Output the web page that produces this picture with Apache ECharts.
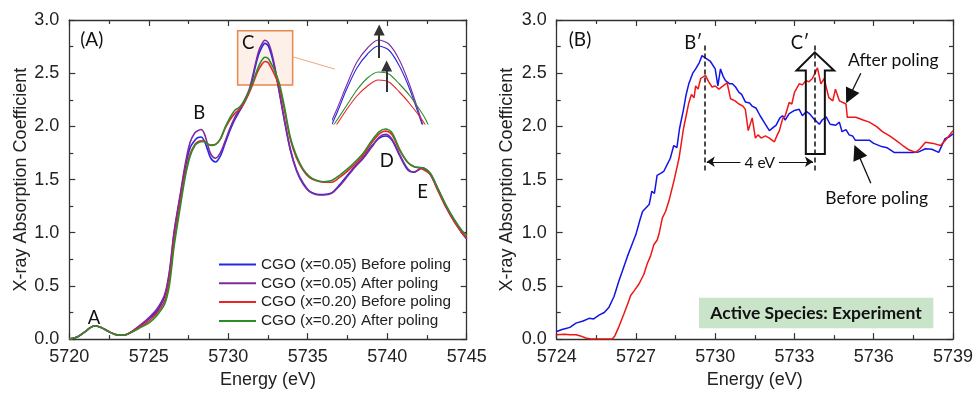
<!DOCTYPE html>
<html>
<head>
<meta charset="utf-8">
<script src="https://cdn.jsdelivr.net/npm/echarts@6/dist/echarts.min.js"></script>
<style>html,body{margin:0;padding:0;background:#fff}#c{width:976px;height:394px}</style>
</head>
<body>
<div id="c"></div>
<script>
// ---------- Panel (A) data ----------
const leftEnergy = [5720,5720.5,5721,5721.3,5721.6,5722,5722.5,5723,5723.5,5724,5724.5,5725,5725.5,5726,5726.3,5726.6,5727,5727.3,5727.6,5727.9,5728.1,5728.3,5728.5,5728.7,5728.9,5729.2,5729.5,5729.8,5730.1,5730.4,5730.7,5731,5731.3,5731.5,5731.7,5731.9,5732.1,5732.3,5732.5,5732.7,5732.9,5733.2,5733.5,5733.9,5734.3,5734.7,5735.1,5735.5,5736,5736.5,5737,5737.5,5738,5738.5,5739,5739.5,5739.9,5740.3,5740.8,5741.3,5741.7,5742.2,5742.7,5743.2,5743.7,5744.2,5744.7,5745];
const cgo05Before = [0.00,0.02,0.07,0.105,0.125,0.11,0.07,0.04,0.04,0.075,0.13,0.19,0.26,0.40,0.62,1.00,1.36,1.62,1.80,1.87,1.895,1.90,1.86,1.78,1.70,1.665,1.72,1.84,1.96,2.06,2.14,2.22,2.32,2.43,2.56,2.67,2.74,2.78,2.76,2.68,2.56,2.33,2.08,1.78,1.58,1.46,1.39,1.365,1.36,1.375,1.45,1.54,1.63,1.71,1.81,1.89,1.91,1.87,1.72,1.59,1.57,1.61,1.55,1.40,1.24,1.11,1.00,0.945];
const cgo05After  = [0.00,0.02,0.07,0.105,0.125,0.11,0.07,0.04,0.04,0.08,0.135,0.20,0.28,0.42,0.64,1.02,1.38,1.65,1.85,1.94,1.96,1.97,1.93,1.83,1.74,1.70,1.75,1.86,1.98,2.08,2.16,2.24,2.34,2.45,2.58,2.70,2.77,2.81,2.79,2.71,2.58,2.34,2.09,1.79,1.59,1.47,1.39,1.36,1.355,1.37,1.44,1.53,1.62,1.70,1.80,1.90,1.925,1.88,1.73,1.60,1.57,1.61,1.56,1.41,1.25,1.12,1.00,0.94];
const cgo20Before = [0.00,0.02,0.07,0.105,0.125,0.11,0.07,0.04,0.04,0.075,0.12,0.17,0.24,0.36,0.56,0.93,1.30,1.56,1.74,1.83,1.855,1.865,1.86,1.835,1.82,1.83,1.88,1.98,2.06,2.12,2.16,2.22,2.31,2.38,2.46,2.53,2.58,2.61,2.60,2.55,2.49,2.38,2.18,1.88,1.70,1.59,1.52,1.49,1.475,1.475,1.52,1.58,1.65,1.73,1.84,1.93,1.955,1.92,1.77,1.66,1.62,1.60,1.55,1.39,1.24,1.11,1.00,0.955];
const cgo20After  = [0.00,0.02,0.07,0.105,0.125,0.11,0.07,0.04,0.04,0.07,0.11,0.15,0.22,0.33,0.51,0.88,1.26,1.53,1.72,1.82,1.845,1.855,1.855,1.835,1.825,1.83,1.88,1.99,2.08,2.15,2.18,2.24,2.33,2.40,2.48,2.56,2.62,2.65,2.64,2.59,2.53,2.41,2.21,1.90,1.72,1.60,1.53,1.495,1.48,1.49,1.54,1.60,1.67,1.75,1.86,1.95,1.975,1.94,1.78,1.66,1.62,1.61,1.56,1.41,1.26,1.13,1.02,0.975];
const legendNames = ['CGO (x=0.05) Before poling','CGO (x=0.05) After poling','CGO (x=0.20) Before poling','CGO (x=0.20) After poling'];

// ---------- Panel (B) data ----------
const rightBeforeEnergy = [5724.0,5724.2,5724.35,5724.5,5724.73,5725.0,5725.23,5725.4,5725.6,5725.8,5725.98,5726.17,5726.36,5726.5,5726.68,5726.85,5727.0,5727.15,5727.25,5727.4,5727.5,5727.6,5727.7,5727.8,5727.95,5728.06,5728.18,5728.3,5728.43,5728.55,5728.65,5728.8,5728.9,5729.0,5729.15,5729.26,5729.4,5729.5,5729.65,5729.82,5730.0,5730.1,5730.2,5730.3,5730.39,5730.55,5730.65,5730.77,5730.9,5731.0,5731.14,5731.3,5731.4,5731.55,5731.7,5731.85,5732.05,5732.2,5732.3,5732.45,5732.55,5732.65,5732.8,5733.0,5733.18,5733.3,5733.45,5733.56,5733.7,5733.94,5734.05,5734.2,5734.35,5734.56,5734.7,5734.8,5734.95,5735.07,5735.2,5735.3,5735.83,5736.0,5736.3,5736.5,5736.77,5737.46,5737.7,5737.96,5738.2,5738.46,5738.7,5738.85,5739.0];
const rightBeforeValue  = [0.072,0.09,0.10,0.11,0.15,0.17,0.195,0.19,0.225,0.25,0.30,0.40,0.55,0.65,0.78,0.89,0.985,1.12,1.20,1.24,1.265,1.39,1.37,1.54,1.56,1.58,1.64,1.70,1.82,1.80,1.98,2.16,2.30,2.40,2.50,2.54,2.60,2.665,2.64,2.61,2.54,2.38,2.54,2.47,2.43,2.40,2.40,2.37,2.32,2.30,2.23,2.22,2.19,2.17,2.10,2.04,1.96,1.99,2.01,2.08,2.10,2.06,2.12,2.15,2.16,2.10,2.14,2.12,2.08,2.02,2.06,2.09,2.02,2.01,2.04,1.95,1.97,1.92,1.91,1.87,1.87,1.84,1.81,1.80,1.755,1.755,1.76,1.79,1.785,1.755,1.885,1.90,1.93];
const rightAfterEnergy  = [5724.0,5724.3,5724.5,5724.73,5724.9,5725.1,5725.3,5725.5,5725.8,5726.1,5726.2,5726.36,5726.55,5726.7,5726.8,5726.95,5727.12,5727.3,5727.43,5727.55,5727.68,5727.8,5727.87,5728.0,5728.12,5728.25,5728.35,5728.44,5728.63,5728.8,5728.9,5729.0,5729.1,5729.2,5729.26,5729.35,5729.45,5729.63,5729.75,5729.88,5730.0,5730.14,5730.3,5730.45,5730.58,5730.75,5730.9,5731.05,5731.14,5731.25,5731.4,5731.52,5731.62,5731.74,5731.9,5732.05,5732.24,5732.35,5732.43,5732.55,5732.65,5732.8,5732.9,5733.0,5733.18,5733.3,5733.43,5733.55,5733.68,5733.87,5734.0,5734.13,5734.2,5734.3,5734.45,5734.55,5734.7,5734.95,5735.0,5735.32,5735.6,5735.83,5736.1,5736.33,5736.6,5736.83,5737.1,5737.33,5737.58,5737.75,5737.96,5738.25,5738.53,5738.75,5739.0];
const rightAfterValue   = [0.04,0.045,0.04,0.04,0.03,0.01,0.0,0.0,0.0,0.0,0.03,0.12,0.24,0.34,0.41,0.46,0.52,0.61,0.71,0.78,0.89,0.93,0.985,1.14,1.20,1.30,1.40,1.49,1.70,1.98,2.10,2.22,2.30,2.27,2.38,2.35,2.45,2.48,2.42,2.37,2.38,2.35,2.38,2.41,2.26,2.24,2.21,2.19,2.16,1.96,2.08,1.89,1.92,1.89,1.91,1.89,1.855,1.92,1.96,2.07,2.10,2.225,2.21,2.32,2.40,2.39,2.43,2.42,2.45,2.55,2.40,2.45,2.37,2.27,2.24,2.35,2.24,2.21,2.085,2.085,2.06,2.04,2.00,1.95,1.91,1.87,1.82,1.78,1.755,1.79,1.85,1.84,1.82,1.88,1.96];

// ---------- annotation geometry (data coordinates) ----------
const blockArrow = [[5733.43,1.74],[5733.43,2.526],[5733.08,2.526],[5733.77,2.696],[5734.5,2.526],[5734.15,2.526],[5734.15,1.74]];

const zip = (xs, ys) => xs.map((x, i) => [x, ys[i]]);
const leftColors = ['#2626e8', '#7e2c9c', '#e8262a', '#2a8c2a'];
const leftValues = [cgo05Before, cgo05After, cgo20Before, cgo20After];

const TICK_FONT = "'Liberation Sans', Arial, sans-serif";
const ANNO_FONT = "Lato, 'Open Sans', sans-serif";

function mainX(grid, min, max, interval, name) {
  return [{
    type: 'value', gridIndex: grid, min, max, interval, position: 'bottom',
    axisLine: { show: true, onZero: false, lineStyle: { color: '#333', width: 1.3 } },
    axisTick: { show: true, inside: true, length: 6, lineStyle: { color: '#333', width: 1.2 } },
    minorTick: { show: true, splitNumber: 2, length: 4, lineStyle: { color: '#333', width: 1.2 } },
    axisLabel: { fontSize: 18, color: '#222', fontFamily: TICK_FONT, margin: 9, formatter: v => String(v) },
    splitLine: { show: false },
    name, nameLocation: 'middle', nameGap: 30,
    nameTextStyle: { fontSize: 18, color: '#222', fontFamily: TICK_FONT }
  }, {
    type: 'value', gridIndex: grid, min, max, interval, position: 'top',
    axisLine: { show: true, onZero: false, lineStyle: { color: '#333', width: 1.3 } },
    axisTick: { show: true, inside: true, length: 6, lineStyle: { color: '#333', width: 1.2 } },
    minorTick: { show: true, splitNumber: 2, length: 4, lineStyle: { color: '#333', width: 1.2 } },
    axisLabel: { show: false }, splitLine: { show: false }
  }];
}
function mainY(grid, nameGap) {
  return [{
    type: 'value', gridIndex: grid, min: 0, max: 3, interval: 0.5, position: 'left',
    axisLine: { show: true, onZero: false, lineStyle: { color: '#333', width: 1.3 } },
    axisTick: { show: true, inside: true, length: 6, lineStyle: { color: '#333', width: 1.2 } },
    minorTick: { show: true, splitNumber: 2, length: 4, lineStyle: { color: '#333', width: 1.2 } },
    axisLabel: { fontSize: 18, color: '#222', fontFamily: TICK_FONT, margin: 10, formatter: v => v.toFixed(1) },
    splitLine: { show: false },
    name: 'X-ray Absorption Coefficient', nameLocation: 'middle', nameGap,
    nameTextStyle: { fontSize: 18, color: '#222', fontFamily: TICK_FONT }
  }, {
    type: 'value', gridIndex: grid, min: 0, max: 3, interval: 0.5, position: 'right',
    axisLine: { show: true, onZero: false, lineStyle: { color: '#333', width: 1.3 } },
    axisTick: { show: true, inside: true, length: 6, lineStyle: { color: '#333', width: 1.2 } },
    minorTick: { show: true, splitNumber: 2, length: 4, lineStyle: { color: '#333', width: 1.2 } },
    axisLabel: { show: false }, splitLine: { show: false }
  }];
}

const xAxes = [
  ...mainX(0, 5720, 5745, 5, 'Energy (eV)'),
  ...mainX(1, 5724, 5739, 3, 'Energy (eV)'),
  { type: 'value', gridIndex: 2, min: 5731.45, max: 5733.22, show: false }
];
const yAxes = [
  ...mainY(0, 38),
  ...mainY(1, 41),
  { type: 'value', gridIndex: 2, min: 2.39, max: 2.9, show: false }
];

const series = [];
// Panel A curves
leftValues.forEach((vals, i) => {
  series.push({
    name: legendNames[i], type: 'line', xAxisIndex: 0, yAxisIndex: 0,
    data: zip(leftEnergy, vals), showSymbol: false, symbol: 'none', smooth: 0.3,
    lineStyle: { color: leftColors[i], width: 1.6 }, itemStyle: { color: leftColors[i] },
    z: 3, silent: true
  });
});
// Inset curves
leftValues.forEach((vals, i) => {
  series.push({
    name: legendNames[i], type: 'line', xAxisIndex: 4, yAxisIndex: 4,
    data: zip(leftEnergy, vals), showSymbol: false, symbol: 'none', smooth: 0.3, clip: true,
    lineStyle: { color: leftColors[i], width: 1.1 }, itemStyle: { color: leftColors[i] },
    z: 3, silent: true
  });
});
// Highlight box + connector in panel A
series.push({
  type: 'line', xAxisIndex: 0, yAxisIndex: 0, data: [], silent: true,
  markArea: {
    silent: true,
    itemStyle: { color: 'rgba(246,204,180,0.3)', borderColor: '#e8884c', borderWidth: 1.5 },
    data: [[{ coord: [5730.59, 2.90] }, { coord: [5734.05, 2.39] }]]
  },
  markLine: {
    silent: true, symbol: 'none', label: { show: false },
    lineStyle: { color: '#f0a878', width: 1, type: 'solid' },
    data: [[{ coord: [5734.05, 2.655] }, { coord: [5736.71, 2.538] }]]
  }
});
// Inset arrows
series.push({
  type: 'line', xAxisIndex: 4, yAxisIndex: 4, data: [], silent: true,
  markLine: {
    silent: true, symbol: ['none', 'triangle'], symbolSize: 11, label: { show: false },
    lineStyle: { color: '#333', width: 2, type: 'solid' },
    data: [
      [{ coord: [5732.32, 2.72] }, { coord: [5732.32, 2.86] }],
      [{ coord: [5732.46, 2.55] }, { coord: [5732.46, 2.68] }]
    ]
  }
});
// Panel B curves
series.push({
  name: 'Before poling', type: 'line', xAxisIndex: 2, yAxisIndex: 2,
  data: zip(rightBeforeEnergy, rightBeforeValue), showSymbol: false, symbol: 'none',
  lineStyle: { color: '#1414e6', width: 1.5 }, z: 3, silent: true
});
series.push({
  name: 'After poling', type: 'line', xAxisIndex: 2, yAxisIndex: 2,
  data: zip(rightAfterEnergy, rightAfterValue), showSymbol: false, symbol: 'none',
  lineStyle: { color: '#ee1616', width: 1.5 }, z: 3, silent: true
});
// Panel B dashed guides and 4 eV arrow
series.push({
  type: 'line', xAxisIndex: 2, yAxisIndex: 2, data: [], silent: true,
  markLine: {
    silent: true, symbol: 'none', label: { show: false },
    lineStyle: { color: '#111', width: 1.5, type: [5, 3] },
    data: [
      [{ coord: [5729.6, 2.76] }, { coord: [5729.6, 1.56] }],
      [{ coord: [5733.77, 2.76] }, { coord: [5733.77, 1.56] }]
    ]
  }
});
series.push({
  type: 'line', xAxisIndex: 2, yAxisIndex: 2, data: [], silent: true,
  markLine: {
    silent: true, symbol: ['arrow', 'arrow'], symbolSize: 8, label: { show: false },
    lineStyle: { color: '#111', width: 1.2, type: 'solid' },
    data: [[{ coord: [5729.68, 1.667] }, { coord: [5733.7, 1.667] }]]
  }
});
series.push({
  type: 'line', xAxisIndex: 2, yAxisIndex: 2, data: [], silent: true,
  markLine: {
    silent: true, symbol: ['none', 'triangle'], symbolSize: 15, label: { show: false },
    lineStyle: { color: '#111', width: 1.3, type: 'solid' },
    data: [
      [{ coord: [5735.51, 2.50] }, { coord: [5735.08, 2.28] }],
      [{ coord: [5735.89, 1.466] }, { coord: [5735.38, 1.76] }]
    ]
  }
});
// Block arrow (hollow)
series.push({
  type: 'custom', xAxisIndex: 2, yAxisIndex: 2, data: [[5733.77, 2.2]], silent: true, z: 4,
  renderItem: function (params, api) {
    const pts = blockArrow.map(p => api.coord(p));
    return { type: 'polygon', shape: { points: pts }, style: { fill: 'none', stroke: '#111', lineWidth: 2 } };
  }
});

function txt(text, x, y, size, opts) {
  return {
    type: 'text', z: 100, silent: true,
    style: Object.assign({ text, x, y, align: 'center', verticalAlign: 'middle', fontSize: size, fontFamily: ANNO_FONT, fill: '#111' }, opts || {})
  };
}

const option = {
  animation: false,
  backgroundColor: '#fff',
  grid: [
    { left: 69.3, top: 20, width: 397.4, height: 323.3, containLabel: false },
    { left: 556.7, top: 20, width: 397.6, height: 322.7, containLabel: false },
    { left: 333, top: 22, width: 94, height: 102, containLabel: false }
  ],
  xAxis: xAxes,
  yAxis: yAxes,
  legend: {
    data: legendNames, orient: 'vertical', left: 213, top: 252,
    itemWidth: 37, itemHeight: 15, itemGap: 3.8,
    itemStyle: { opacity: 0 },
    lineStyle: { width: 2 },
    textStyle: { fontSize: 15.3, color: '#222', fontFamily: TICK_FONT, lineHeight: 15 },
    selectedMode: false
  },
  series,
  graphic: [
    txt('(A)', 91.7, 40, 19),
    txt('A', 94, 318.3, 18.5),
    txt('B', 199.3, 112.7, 18.5),
    txt('C', 248.3, 43.3, 18.5),
    txt('D', 386.7, 160.7, 18.5),
    txt('E', 422.7, 192.3, 18.5),
    txt('(B)', 580, 40, 19),
    txt('B\u2032', 693.3, 42.7, 18.5),
    txt('C\u2032', 800, 42.7, 18.5),
    txt('After poling', 893.3, 60, 17.5),
    txt('Before poling', 876.7, 198.3, 17.5),
    txt('4 eV', 759.7, 163, 15.5, { backgroundColor: '#fff', padding: [0, 4] }),
    { type: 'rect', z: 90, silent: true, shape: { x: 699, y: 297.7, width: 234.3, height: 30.6 }, style: { fill: '#c9e4c8' } },
    txt('Active Species: Experiment', 816, 313, 17.5, { fontWeight: 'bold' })
  ]
};

const chart = echarts.init(document.getElementById('c'), null, { renderer: 'canvas' });
chart.setOption(option);
</script>
</body>
</html>
